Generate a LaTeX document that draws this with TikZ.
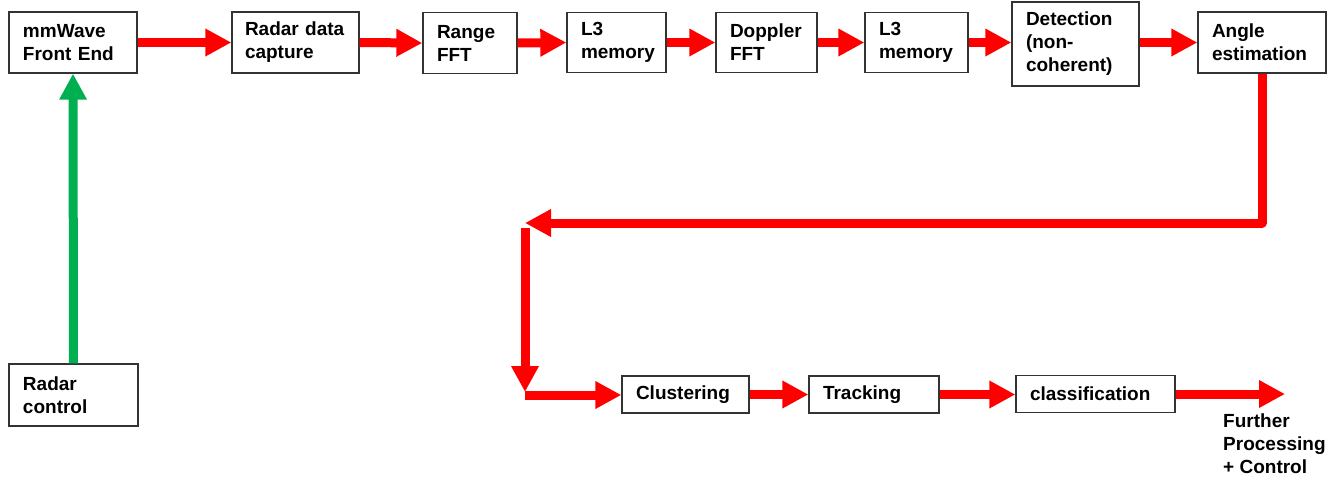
\documentclass[tikz,border=0pt]{standalone}
\usepackage{fontspec}
\setmainfont{Liberation Sans}
\usetikzlibrary{arrows.meta}
\definecolor{arrowgreen}{HTML}{00B050}
\definecolor{arrowred}{HTML}{FF0000}
\tikzset{
  box/.style={draw=black!80, line width=1.3pt, fill=white, align=left,
    inner xsep=14pt, inner ysep=0pt,
    font=\fontsize{19}{23}\selectfont\bfseries},
  lbl/.style={align=left, inner sep=0pt, anchor=north west,
    font=\fontsize{19}{23}\selectfont\bfseries},
  redarrow/.style={draw=arrowred, line width=9pt, line join=round,
    -{Triangle[length=26pt,width=26pt]}},
  greenarrow/.style={draw=arrowgreen, line width=9pt,
    -{Triangle[length=26pt,width=26pt]}},
}
\begin{document}
\begin{tikzpicture}[x=1pt,y=-1pt]
\useasboundingbox (0,0) rectangle (1331,477);
% top row
\node[box, text width=100pt, minimum height=61pt] (mm)   at (73,42.5)    {mmWave\\Front End};
\node[box, text width=101pt, inner xsep=13pt, minimum height=61pt] (rdc)  at (295.5,42.5) {\mbox{Radar data}\\capture};
\node[box, text width=66pt,  minimum height=61pt] (rfft) at (470,43)     {Range\\FFT};
\node[box, text width=71pt,  minimum height=60pt] (l3a)  at (616.5,42.5) {L3\\memory};
\node[box, text width=73pt,  minimum height=60pt] (dfft) at (766.5,42.5) {Doppler\\FFT};
\node[box, text width=75pt,  minimum height=60pt] (l3b)  at (916.5,42.5) {L3\\memory};
\node[box, text width=99pt,  minimum height=84pt] (det)  at (1075.5,44)  {Detection\\(non-\\coherent)};
\node[box, text width=100pt, minimum height=61pt] (ang)  at (1262,42.5)  {Angle\\estimation};
% left bottom
\node[box, text width=101pt, minimum height=62pt] (rc)   at (73.5,395)   {Radar\\control};
% bottom row
\node[box, text width=99pt,  minimum height=37pt] (clu)  at (685.5,394.5) {Clustering};
\node[box, text width=102pt, minimum height=37pt] (trk)  at (874,394.5)   {Tracking};
\node[box, text width=131pt, minimum height=37pt] (cls)  at (1095.5,394)  {classification};
\node[lbl] (fp) at (1223,413.5) {Further\\Processing\\+ Control};
% coordinates
\coordinate (c1) at (1262,223);
\coordinate (t1) at (525,223);
\coordinate (v1) at (525,228);
\coordinate (v2) at (525,392);
\coordinate (h1) at (525,395);
\coordinate (out) at (1285,394);
% top row arrows
\draw[redarrow] (mm.east) -- (rdc.west);
\draw[redarrow] (rdc.east) -- (rfft.west);
\draw[redarrow] (rfft.east) -- (l3a.west);
\draw[redarrow] (l3a.east) -- (dfft.west);
\draw[redarrow] (dfft.east) -- (l3b.west);
\draw[redarrow] (l3b.east) -- (l3b.east -| det.west);
\draw[redarrow] (ang.west -| det.east) -- (ang.west);
% return path
\draw[redarrow] (ang.south) -- (c1) -- (t1);
\draw[redarrow] (v1) -- (v2);
\draw[redarrow] (h1) -- (h1 -| clu.west);
% bottom row arrows
\draw[redarrow] (clu.east) -- (trk.west);
\draw[redarrow] (trk.east) -- (trk.east -| cls.west);
\draw[redarrow] (cls.east) -- (out);
% green control arrow
\draw[greenarrow] (rc.north) -- (mm.south);
\end{tikzpicture}
\end{document}
